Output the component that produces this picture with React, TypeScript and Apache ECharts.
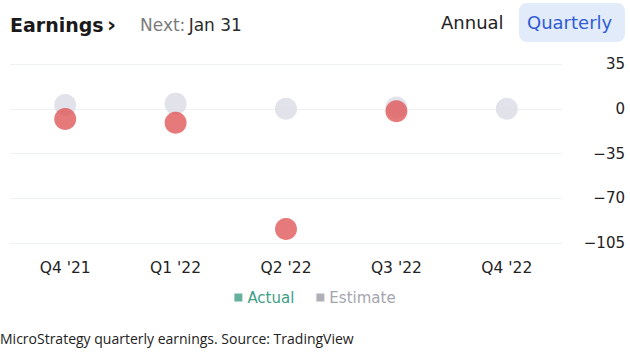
import React, { useEffect, useRef } from "react";
import * as echarts from "echarts";

const categories = ["Q4 '21", "Q1 '22", "Q2 '22", "Q3 '22", "Q4 '22"];
const actualValues: (number | null)[] = [-8, -11, -94, -2, null];
const estimateValues: number[] = [3, 4, 0, 1, 0];
const yTicks = { min: -105, max: 35, interval: 35 };

const FONT = "DejaVu Sans";

export default function App() {
  const ref = useRef<HTMLDivElement>(null);
  useEffect(() => {
    if (!ref.current) return;
    const chart = echarts.init(ref.current, null, { renderer: "svg" });
    chart.setOption({
      animation: false,
      backgroundColor: "#ffffff",
      grid: { left: 10, right: 68, top: 64, bottom: 110 },
      xAxis: {
        type: "category",
        data: categories,
        boundaryGap: true,
        axisLine: { show: false },
        axisTick: { show: false },
        axisLabel: { color: "#222222", fontSize: 15.5, fontFamily: FONT, margin: 17 },
      },
      yAxis: {
        type: "value",
        position: "right",
        min: yTicks.min,
        max: yTicks.max,
        interval: yTicks.interval,
        axisLine: { show: false },
        axisTick: { show: false },
        splitLine: { lineStyle: { color: "#edf0f4", width: 1 } },
        axisLabel: {
          color: "#222222",
          fontSize: 15,
          fontFamily: FONT,
          align: "right",
          margin: 63,
          formatter: (v: number) => String(v).replace("-", "\u2212"),
        },
      },
      legend: {
        bottom: 43,
        left: "center",
        icon: "rect",
        itemWidth: 8,
        itemHeight: 8,
        itemGap: 22,
        textStyle: { fontSize: 15, fontFamily: FONT },
        data: [
          { name: "Actual", itemStyle: { color: "#3f9e86" }, textStyle: { color: "#3f9e86" } },
          { name: "Estimate", itemStyle: { color: "#9c9ca6" }, textStyle: { color: "#a5a5ae" } },
        ],
      },
      series: [
        {
          name: "Estimate",
          type: "scatter",
          data: estimateValues,
          symbolSize: 22,
          itemStyle: { color: "#d9dbe5" },
        },
        {
          name: "Actual",
          type: "scatter",
          data: actualValues,
          symbolSize: 22,
          itemStyle: { color: "#e05757" },
        },
      ],
      graphic: [
        {
          type: "text",
          x: 10,
          y: 24.5,
          style: { text: "Earnings", fontSize: 19, fontWeight: "bold", fontFamily: FONT, fill: "#1a1a1a", verticalAlign: "middle" },
        },
        {
          type: "text",
          x: 107,
          y: 24,
          style: { text: "\u203A", fontSize: 22, fontWeight: "bold", fontFamily: FONT, fill: "#1a1a1a", verticalAlign: "middle" },
        },
        {
          type: "text",
          x: 140,
          y: 24.5,
          style: {
            text: "{a|Next:} {b|Jan 31}",
            verticalAlign: "middle",
            rich: {
              a: { fontSize: 17, fontFamily: FONT, fill: "#7a7a7a" },
              b: { fontSize: 17, fontFamily: FONT, fill: "#2a2a2a" },
            },
          },
        },
        {
          type: "text",
          x: 441,
          y: 22.5,
          style: { text: "Annual", fontSize: 18, fontFamily: FONT, fill: "#222222", verticalAlign: "middle" },
        },
        {
          type: "rect",
          shape: { x: 519, y: 3, width: 106, height: 39, r: 8 },
          style: { fill: "#e2ebfa" },
        },
        {
          type: "text",
          x: 527,
          y: 22.5,
          style: { text: "Quarterly", fontSize: 18, fontFamily: FONT, fill: "#2f5bd6", verticalAlign: "middle" },
        },
        {
          type: "text",
          left: 0,
          top: 331,
          style: {
            text: "MicroStrategy quarterly earnings. Source: TradingView",
            fontSize: 14,
            fontFamily: "Open Sans",
            fill: "#222222",
          },
        },
      ],
    });
    return () => chart.dispose();
  }, []);
  return (
    <div
      ref={ref}
      style={{ position: "fixed", left: 0, top: 0, width: 630, height: 353 }}
    />
  );
}
